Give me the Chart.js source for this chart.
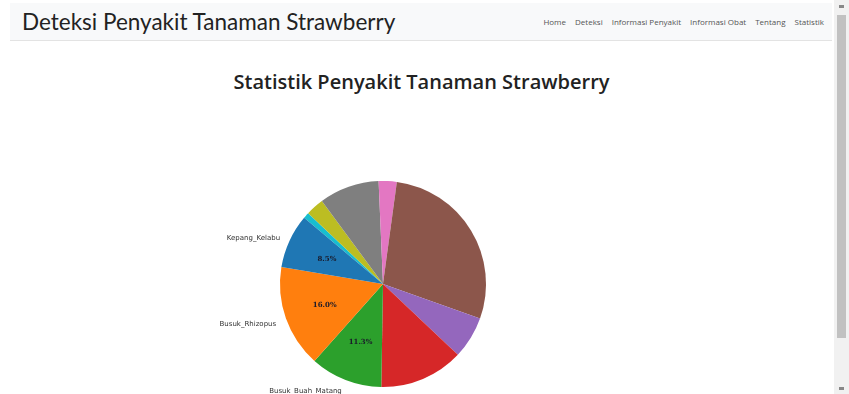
<!DOCTYPE html>
<html>
<head>
<meta charset="utf-8">
<script src="https://cdn.jsdelivr.net/npm/chart.js@4.4.1/dist/chart.umd.min.js"></script>
<style>
  html, body { margin: 0; padding: 0; width: 849px; height: 394px; overflow: hidden; background: #fff; font-family: "Open Sans", "Noto Sans", sans-serif; }
  .nav { position: absolute; left: 10px; top: 3px; width: 822px; height: 37px; background: #f8f9fa; border-bottom: 1px solid #e3e3e3; }
  .brand { position: absolute; left: 12px; top: 5px; font-family: Lato, sans-serif; font-size: 22.5px; color: #222; }
  .links { position: absolute; right: 8px; top: 13px; font-size: 8px; color: #555; }
  .links span { margin-left: 9px; }
  h2 { position: absolute; left: 0; width: 843px; top: 68px; margin: 0; text-align: center; font-size: 20px; font-weight: 600; color: #222; }
  .chartBox { position: absolute; left: 180px; top: 81px; width: 406px; height: 406px; }
  .sb { position: absolute; left: 834px; top: 0; width: 15px; height: 394px; background: #f1f1f1; }
  .thumb { position: absolute; left: 837px; top: 15px; width: 9px; height: 323px; background: #c1c1c1; }
  .arr { position: absolute; left: 839px; width: 5px; height: 3px; background: #888; }
</style>
</head>
<body>
<div class="nav">
  <div class="brand">Deteksi Penyakit Tanaman Strawberry</div>
  <div class="links"><span>Home</span><span>Deteksi</span><span>Informasi Penyakit</span><span>Informasi Obat</span><span>Tentang</span><span>Statistik</span></div>
</div>
<h2>Statistik Penyakit Tanaman Strawberry</h2>
<div class="chartBox"><canvas id="pie"></canvas></div>
<div class="sb"></div><div class="thumb"></div>
<div class="arr" style="top:5px"></div><div class="arr" style="top:387px"></div>
<script>
// counts in matplotlib order (counter-clockwise from start angle 140 deg)
const categories = ["Kepang_Kelabu", "Busuk_Rhizopus", "Busuk_Buah_Matang", "", "", "", "", "", "", ""];
const counts = [9, 17, 12, 14, 7, 30, 3, 10, 3, 1];
const showPct = [true, true, true, false, false, false, false, false, false, false];
const colors = ["#1f77b4", "#ff7f0e", "#2ca02c", "#d62728", "#9467bd", "#8c564b", "#e377c2", "#7f7f7f", "#bcbd22", "#17becf"];

// Chart.js goes clockwise, so reverse to mimic matplotlib
const labelsR = categories.slice().reverse();
const dataR = counts.slice().reverse();
const pctR = showPct.slice().reverse();
const colorsR = colors.slice().reverse();
const total = counts.reduce((a, b) => a + b, 0);

const labelPlugin = {
  id: "mplLabels",
  afterDatasetsDraw(chart) {
    const ctx = chart.ctx;
    const meta = chart.getDatasetMeta(0);
    ctx.save();
    ctx.textBaseline = "middle";
    meta.data.forEach((arc, i) => {
      const p = arc.getProps(["x", "y", "startAngle", "endAngle", "outerRadius"], true);
      const mid = (p.startAngle + p.endAngle) / 2;
      const c = Math.cos(mid), s = Math.sin(mid);
      if (labelsR[i]) {
        ctx.font = "7px 'DejaVu Sans'";
        ctx.fillStyle = "#333";
        ctx.textAlign = c < 0 ? "right" : "left";
        ctx.fillText(labelsR[i], p.x + c * p.outerRadius * 1.1, p.y + s * p.outerRadius * 1.1 + 2);
      }
      if (pctR[i]) {
        ctx.font = "bold 7px 'DejaVu Serif'";
        ctx.fillStyle = "#1a1a2a";
        ctx.textAlign = "center";
        const pct = (dataR[i] / total * 100).toFixed(1) + "%";
        ctx.fillText(pct, p.x + c * p.outerRadius * 0.6, p.y + s * p.outerRadius * 0.6 + 1);
      }
    });
    ctx.restore();
  }
};

new Chart(document.getElementById("pie"), {
  type: "pie",
  data: {
    labels: labelsR,
    datasets: [{ data: dataR, backgroundColor: colorsR, borderWidth: 0 }]
  },
  options: {
    responsive: true,
    maintainAspectRatio: false,
    animation: false,
    rotation: -50,
    layout: { padding: 100 },
    plugins: { legend: { display: false }, tooltip: { enabled: false } }
  },
  plugins: [labelPlugin]
});
</script>
</body>
</html>
